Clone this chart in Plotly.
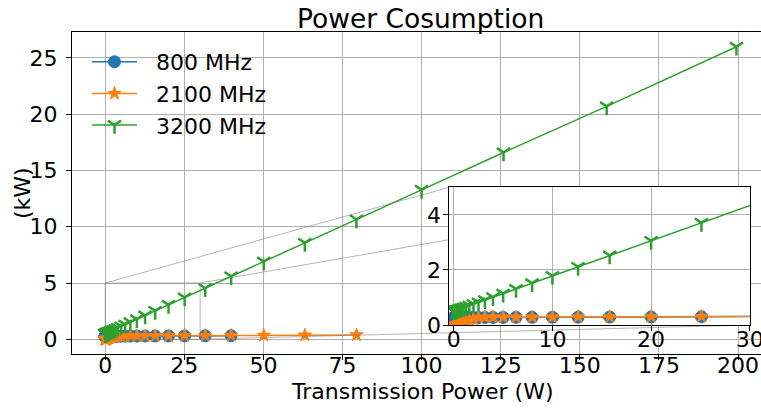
import plotly.graph_objects as go

# ---------------- data ----------------
# transmission power values (W): 0 dBm ... 53 dBm in 1 dB steps
power_w = [0.001, 0.00126, 0.00158, 0.002, 0.00251, 0.00316, 0.00398, 0.00501, 0.00631, 0.00794,
           0.01, 0.0126, 0.0158, 0.02, 0.0251, 0.0316, 0.0398, 0.0501, 0.0631, 0.0794,
           0.1, 0.126, 0.158, 0.2, 0.251, 0.316, 0.398, 0.501, 0.631, 0.794,
           1.0, 1.26, 1.58, 2.0, 2.51, 3.16, 3.98, 5.01, 6.31, 7.94,
           10.0, 12.6, 15.8, 20.0, 25.1, 31.6, 39.8, 50.1, 63.1, 79.4,
           100.0, 125.9, 158.5, 199.5]

# power consumption (kW)
p800 = [0.27] * 35 + [0.274, 0.275, 0.276, 0.278, 0.28, 0.282, 0.285, 0.289, 0.294, 0.30, 0.308, 0.318]

p2100 = [0.000, 0.000, 0.000, 0.000, 0.000, 0.000, 0.000, 0.001, 0.001, 0.001,
         0.001, 0.001, 0.002, 0.002, 0.003, 0.003, 0.004, 0.006, 0.007, 0.009,
         0.011, 0.014, 0.017, 0.022, 0.028, 0.035, 0.044, 0.055, 0.069, 0.087,
         0.11, 0.14, 0.17, 0.22, 0.27, 0.28, 0.282, 0.284, 0.285, 0.287,
         0.29, 0.294, 0.298, 0.303, 0.31, 0.318, 0.329, 0.342, 0.359, 0.38]

p3200 = [0.50] * 16 + [0.505, 0.506, 0.508, 0.51,
         0.513, 0.516, 0.52, 0.526, 0.532, 0.54, 0.551, 0.564, 0.581, 0.601,
         0.628, 0.661, 0.702, 0.756, 0.821, 0.904, 1.009, 1.14, 1.306, 1.515,
         1.778, 2.11, 2.522, 3.056, 3.708, 4.539, 5.586, 6.903, 8.564, 10.65,
         13.28, 16.6, 20.7, 26.0]

series_names = ["800 MHz", "2100 MHz", "3200 MHz"]
series_vals = [p800, p2100, p3200]

x_ticks = [0, 25, 50, 75, 100, 125, 150, 175, 200]
y_ticks = [0, 5, 10, 15, 20, 25]
ins_x_ticks = [0, 10, 20, 30]
ins_y_ticks = [0, 2, 4]

# zoom region of the inset
zoom_x = [0, 30]
zoom_y = [0, 5]

# ---------------- layout geometry ----------------
W, H = 761, 412
ML, MT, MB, MR = 72, 32, 58, 0
PW = W - ML - MR
PH = H - MT - MB

x_range = [-10.5, 207.27]
y_range = [-1.31, 27.31]
ins_x_range = [-0.45, 30.02]
ins_y_range = zoom_y

ins_dom_x = [(449.3 - ML) / PW, (750 - ML) / PW]
ins_dom_y = [(H - MB - 325) / PH, (H - MB - 187.3) / PH]

FONT = "DejaVu Sans"
FS = 22
colors = ["#1f77b4", "#ff7f0e", "#2ca02c"]
markers = [
    dict(symbol="circle", size=12, color=colors[0], line=dict(width=1, color=colors[0])),
    dict(symbol="star", size=10, color=colors[1], line=dict(width=1, color=colors[1])),
    dict(symbol="y-down", size=11, color=colors[2], line=dict(width=2.5, color=colors[2])),
]

fig = go.Figure()

# main traces
for i, (name, vals) in enumerate(zip(series_names, series_vals)):
    fig.add_trace(go.Scatter(
        x=power_w[:len(vals)], y=vals, mode="lines+markers", name="\u00a0\u00a0" + name,
        line=dict(color=colors[i], width=1.5), marker=markers[i],
        legendgroup=name, xaxis="x", yaxis="y"))


# zoom indicator and connectors (in main data coordinates)
def to_main(dx, dy):
    return (x_range[0] + dx * (x_range[1] - x_range[0]),
            y_range[0] + dy * (y_range[1] - y_range[0]))


ins_tl = to_main(ins_dom_x[0], ins_dom_y[1])
ins_tr = to_main(ins_dom_x[1], ins_dom_y[1])
ins_br = to_main(ins_dom_x[1], ins_dom_y[0])

gray = "rgba(120,120,120,0.55)"
fig.add_trace(go.Scatter(
    x=[zoom_x[0], zoom_x[0], zoom_x[1], zoom_x[1], zoom_x[0]],
    y=[zoom_y[0], zoom_y[1], zoom_y[1], zoom_y[0], zoom_y[0]],
    mode="lines", line=dict(color=gray, width=1), showlegend=False, hoverinfo="skip"))
for (cx, cy), (tx, ty) in [((zoom_x[0], zoom_y[1]), ins_tl),
                           ((zoom_x[1], zoom_y[1]), ins_tr),
                           ((zoom_x[1], zoom_y[0]), ins_br)]:
    fig.add_trace(go.Scatter(x=[cx, tx], y=[cy, ty], mode="lines",
                             line=dict(color=gray, width=1), showlegend=False, hoverinfo="skip"))

# inset traces
for i, (name, vals) in enumerate(zip(series_names, series_vals)):
    fig.add_trace(go.Scatter(
        x=power_w[:len(vals)], y=vals, mode="lines+markers", name=name,
        line=dict(color=colors[i], width=1.5), marker=markers[i],
        showlegend=False, xaxis="x2", yaxis="y2"))

axis_common = dict(showgrid=True, gridcolor="#b0b0b0", gridwidth=1, zeroline=False,
                   ticks="outside", ticklen=5, tickwidth=1, tickcolor="black",
                   showline=True, linecolor="black", linewidth=1,
                   tickfont=dict(family=FONT, size=FS, color="black"), tickmode="array",
                   ticklabeloverflow="allow", automargin=False)

fig.update_layout(
    width=W, height=H,
    margin=dict(l=ML, r=MR, t=MT, b=MB, pad=0, autoexpand=False),
    paper_bgcolor="white", plot_bgcolor="white",
    font=dict(family=FONT, size=FS, color="black"),
    xaxis=dict(domain=[0, 1], range=x_range, tickvals=x_ticks, mirror=True, anchor="y",
               ticklabelstandoff=-13, **axis_common),
    yaxis=dict(domain=[0, 1], range=y_range, tickvals=y_ticks, mirror=False, anchor="x",
               ticklabelstandoff=4, **axis_common),
    xaxis2=dict(domain=ins_dom_x, range=ins_x_range, tickvals=ins_x_ticks, mirror=True, anchor="y2",
                ticklabelstandoff=-10, **axis_common),
    yaxis2=dict(domain=ins_dom_y, range=ins_y_range, tickvals=ins_y_ticks, mirror=True, anchor="x2",
                ticklabelstandoff=-2, **axis_common),
    showlegend=True,
    legend=dict(x=(87 - ML) / PW, y=(H - MB - 41) / PH, xanchor="left", yanchor="top",
                bgcolor="rgba(0,0,0,0)", borderwidth=0, font=dict(family=FONT, size=FS),
                itemwidth=45, tracegroupgap=0, traceorder="grouped"),
    annotations=[
        dict(text="Power Cosumption", xref="paper", yref="paper",
             x=(421 - ML) / PW, y=(H - MB - 18) / PH, xanchor="center", yanchor="middle",
             showarrow=False, font=dict(family=FONT, size=26.5, color="black")),
        dict(text="Transmission Power (W)", xref="paper", yref="paper",
             x=(422 - ML) / PW, y=(H - MB - 392) / PH, xanchor="center", yanchor="middle",
             showarrow=False, font=dict(family=FONT, size=FS, color="black")),
        dict(text="(kW)", xref="paper", yref="paper", textangle=-90,
             x=(22 - ML) / PW, y=(H - MB - 193) / PH, xanchor="center", yanchor="middle",
             showarrow=False, font=dict(family=FONT, size=FS, color="black")),
    ],
)

fig.write_html("out.html")
